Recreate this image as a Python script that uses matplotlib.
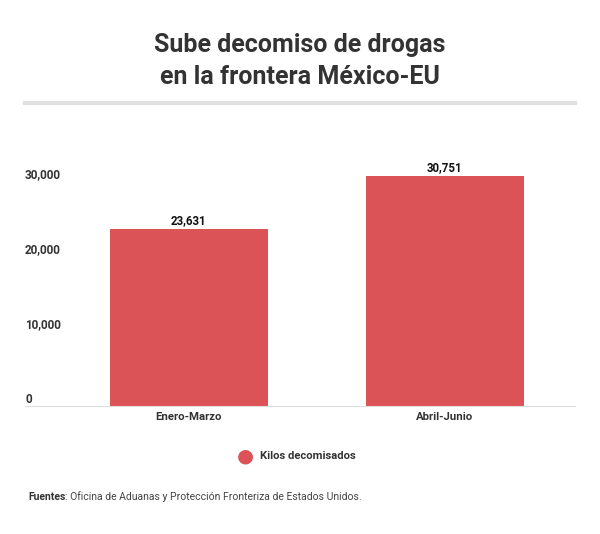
import matplotlib.pyplot as plt

plt.rcParams['font.family'] = ['Roboto', 'DejaVu Sans']

# datos
periodos = ['Enero-Marzo', 'Abril-Junio']
kilos = [23631, 30751]
ticks_y = [0, 10000, 20000, 30000]

color_barra = '#dc5357'

fig = plt.figure(figsize=(6, 5.34), dpi=100)
W, H = 600, 534

# titulo
fig.text(0.5, 1 - 45 / H, 'Sube decomiso de drogas', ha='center', va='center',
         fontsize=18, fontweight='bold', color='#333333')
fig.text(0.5, 1 - 77 / H, 'en la frontera México-EU', ha='center', va='center',
         fontsize=18, fontweight='bold', color='#333333')
# linea gris bajo el titulo
fig.add_artist(plt.Line2D([25 / W, 575 / W], [1 - 103 / H, 1 - 103 / H],
                          color='#e0e0e0', linewidth=3))

# area del grafico
ax = fig.add_axes([25 / W, 1 - 406 / H, 550 / W, 256 / H])
x = range(len(periodos))
ax.bar(x, kilos, width=0.617, color=color_barra)
ax.set_xlim(-0.64, 1.508)
ax.set_ylim(0, 34270)

for xi, v in zip(x, kilos):
    ax.text(xi, v + 250, f'{v:,}', ha='center', va='bottom', fontsize=8.3,
            fontweight='bold', color='#111111')

for spine in ['top', 'right', 'left']:
    ax.spines[spine].set_visible(False)
ax.spines['bottom'].set_color('#dddddd')
ax.spines['bottom'].set_linewidth(0.8)

ax.set_yticks(ticks_y)
ax.set_yticklabels([])
ax.tick_params(axis='y', length=0)
for t in ticks_y:
    ax.text(0.0, t + 930, f'{t:,}', transform=ax.get_yaxis_transform(),
            ha='left', va='center', fontsize=8.4, fontweight='bold',
            color='#333333')

ax.set_xticks(list(x))
ax.set_xticklabels(periodos, fontsize=8.2, fontweight='bold', color='#333333')
ax.tick_params(axis='x', length=0, pad=4)

# leyenda
fig.text(245 / W, 1 - 456 / H, '●', ha='center', va='center', fontsize=14,
         color=color_barra, family=['DejaVu Sans'])
fig.text(260 / W, 1 - 456 / H, 'Kilos decomisados', ha='left', va='center',
         fontsize=8.1, fontweight='bold', color='#333333')

# fuente
t1 = fig.text(28 / W, 1 - 497 / H, 'Fuentes', ha='left', va='center',
              fontsize=7.5, fontweight='bold', color='#333333')
renderer = fig.canvas.get_renderer()
bb = t1.get_window_extent(renderer=renderer)
fig.text(bb.x1 / W, 1 - 497 / H,
         ': Oficina de Aduanas y Protección Fronteriza de Estados Unidos.',
         ha='left', va='center', fontsize=7.5, color='#444444')

fig.savefig('out.png', dpi=100)
